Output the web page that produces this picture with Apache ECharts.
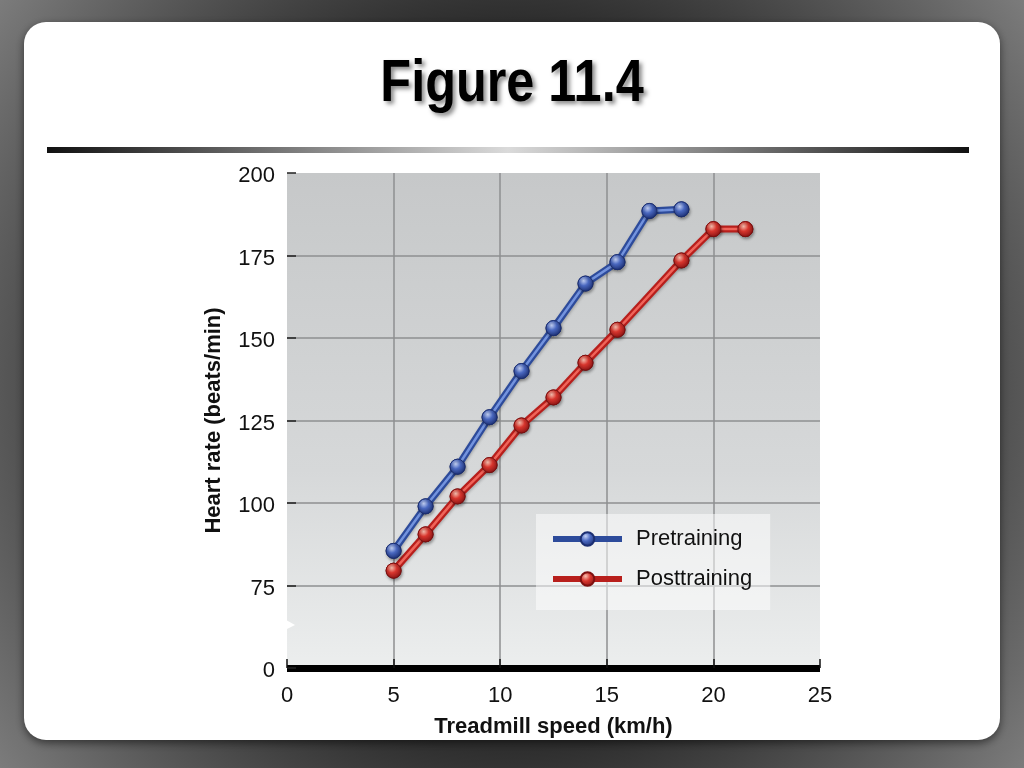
<!DOCTYPE html>
<html>
<head>
<meta charset="utf-8">
<title>Figure 11.4</title>
<script src="https://cdn.jsdelivr.net/npm/echarts@6/dist/echarts.min.js"></script>
<style>
html, body { margin: 0; padding: 0; overflow: hidden; }
#chart { width: 1024px; height: 768px; }
</style>
</head>
<body>
<div id="chart"></div>
<script>
// heart rate vs treadmill speed, before and after training
var preSpeed = [5, 6.5, 8, 9.5, 11, 12.5, 14, 15.5, 17, 18.5];
var preHR = [85.5, 99, 111, 126, 140, 153, 166.5, 173, 188.5, 189];
var postSpeed = [5, 6.5, 8, 9.5, 11, 12.5, 14, 15.5, 18.5, 20, 21.5];
var postHR = [79.5, 90.5, 102, 111.5, 123.5, 132, 142.5, 152.5, 173.5, 183, 183];
// the y axis is broken: the lowest tick stands for 0
var yTickValues = [50, 75, 100, 125, 150, 175, 200];
var yTickLabels = ['0', '75', '100', '125', '150', '175', '200'];
var xTickLabels = ['0', '5', '10', '15', '20', '25'];

function zip(xs, ys) {
    var out = [];
    for (var i = 0; i < xs.length; i++) out.push([xs[i], ys[i]]);
    return out;
}

function ball(light, mid, dark) {
    return {
        type: 'radial', x: 0.38, y: 0.32, r: 0.7,
        colorStops: [
            { offset: 0, color: light },
            { offset: 0.45, color: mid },
            { offset: 1, color: dark }
        ]
    };
}

var blueBall = ball('#c4d2f6', '#4a68c0', '#1c2f72');
var redBall = ball('#f8c0b0', '#d8362e', '#8a1414');
var font = '"Liberation Sans", Arial, Helvetica, sans-serif';

function lineSeries(name, data, outer, inner, fill, edge) {
    return [{
        name: name,
        type: 'line',
        data: data,
        symbol: 'circle',
        symbolSize: 15,
        z: 3,
        lineStyle: { color: outer, width: 7, shadowColor: 'rgba(0,0,0,0.25)', shadowBlur: 3, shadowOffsetY: 2 },
        itemStyle: { color: fill, borderColor: edge, borderWidth: 1 }
    }, {
        name: name + ' core',
        type: 'line',
        data: data,
        symbol: 'circle',
        symbolSize: 15,
        z: 4,
        silent: true,
        lineStyle: { color: inner, width: 2.5 },
        itemStyle: { color: fill, borderColor: edge, borderWidth: 1, shadowColor: 'rgba(0,0,0,0.35)', shadowBlur: 3, shadowOffsetX: 1, shadowOffsetY: 2 }
    }];
}

var chart = echarts.init(document.getElementById('chart'));

var option = {
    animation: false,
    graphic: [
        {
            type: 'rect', z: -20, silent: true,
            shape: { x: 0, y: 0, width: 1024, height: 768 },
            style: {
                fill: {
                    type: 'radial', x: 0.5, y: 0.5, r: 0.95,
                    colorStops: [
                        { offset: 0, color: '#1e1e1e' },
                        { offset: 0.5, color: '#2e2e2e' },
                        { offset: 1, color: '#959595' }
                    ]
                }
            }
        },
        {
            type: 'rect', z: -19, silent: true,
            shape: { x: 24, y: 22, width: 976, height: 718, r: 22 },
            style: { fill: '#ffffff', shadowColor: 'rgba(0,0,0,0.5)', shadowBlur: 8, shadowOffsetY: 3 }
        },
        {
            type: 'text', z: -18, silent: true,
            x: 512, y: 84, scaleX: 0.84,
            style: {
                text: 'Figure 11.4',
                fill: '#000',
                font: 'bold 60px "Liberation Sans", Arial, sans-serif',
                textAlign: 'center',
                textVerticalAlign: 'middle',
                textShadowColor: 'rgba(0,0,0,0.45)',
                textShadowBlur: 4,
                textShadowOffsetX: 3,
                textShadowOffsetY: 3
            }
        },
        {
            type: 'rect', z: -18, silent: true,
            shape: { x: 47, y: 147, width: 922, height: 6 },
            style: {
                fill: {
                    type: 'linear', x: 0, y: 0, x2: 1, y2: 0,
                    colorStops: [
                        { offset: 0, color: '#111' },
                        { offset: 0.5, color: '#dadada' },
                        { offset: 1, color: '#111' }
                    ]
                }
            }
        },
        {
            // break mark on the y axis
            type: 'polygon', z: 10, silent: true,
            shape: { points: [[279, 616], [295, 625], [279, 633]] },
            style: { fill: '#ffffff' }
        }
    ],
    grid: {
        left: 287, right: 204, top: 173, bottom: 100,
        show: true,
        borderWidth: 0,
        backgroundColor: {
            type: 'linear', x: 0, y: 0, x2: 0, y2: 1,
            colorStops: [
                { offset: 0, color: '#c6c8c9' },
                { offset: 0.6, color: '#d6d8d9' },
                { offset: 1, color: '#eceeee' }
            ]
        }
    },
    legend: {
        data: ['Pretraining', 'Posttraining'],
        orient: 'vertical',
        left: 536, top: 514,
        padding: [14, 18, 20, 14],
        itemGap: 18,
        itemWidth: 69,
        itemHeight: 17,
        backgroundColor: 'rgba(255,255,255,0.5)',
        selectedMode: false,
        lineStyle: { width: 6 },
        textStyle: { fontFamily: font, fontSize: 22, color: '#111', padding: [0, 0, 0, 9] }
    },
    xAxis: {
        type: 'value',
        min: 0, max: 25, interval: 5,
        name: 'Treadmill speed (km/h)',
        nameLocation: 'middle',
        nameGap: 48,
        nameTextStyle: { fontFamily: font, fontSize: 22, fontWeight: 'bold', color: '#111' },
        axisLine: { show: true, onZero: false, lineStyle: { color: '#000', width: 7, cap: 'butt' } },
        axisTick: { show: true, inside: true, length: 9, lineStyle: { color: '#111', width: 1.5 } },
        axisLabel: {
            margin: 17, fontFamily: font, fontSize: 22, color: '#111',
            formatter: function (v) { return xTickLabels[Math.round(v / 5)]; }
        },
        splitLine: {
            show: true,
            lineStyle: { color: ['transparent', '#8e8f90', '#8e8f90', '#8e8f90', '#8e8f90', 'transparent'], width: 1.5 }
        }
    },
    yAxis: {
        type: 'value',
        min: 50, max: 200, interval: 25,
        name: 'Heart rate (beats/min)',
        nameLocation: 'middle',
        nameGap: 62,
        nameTextStyle: { fontFamily: font, fontSize: 22, fontWeight: 'bold', color: '#111' },
        axisLine: { show: false },
        axisTick: { show: true, inside: true, length: 9, lineStyle: { color: '#222', width: 1.5 } },
        axisLabel: {
            margin: 12, color: '#111',
            formatter: function (v) { return '{t|' + yTickLabels[yTickValues.indexOf(v)] + '}'; },
            rich: { t: { fontFamily: font, fontSize: 22, color: '#111', padding: [6, 0, 0, 0] } }
        },
        splitLine: {
            show: true,
            lineStyle: { color: ['transparent', '#8e8f90', '#8e8f90', '#8e8f90', '#8e8f90', '#8e8f90', 'transparent'], width: 1.5 }
        }
    },
    series: [].concat(
        lineSeries('Pretraining', zip(preSpeed, preHR), '#2d4b9b', '#7393de', blueBall, '#1c2f72'),
        lineSeries('Posttraining', zip(postSpeed, postHR), '#b81f1c', '#f0645a', redBall, '#7e1010')
    )
};

chart.setOption(option);
</script>
</body>
</html>
